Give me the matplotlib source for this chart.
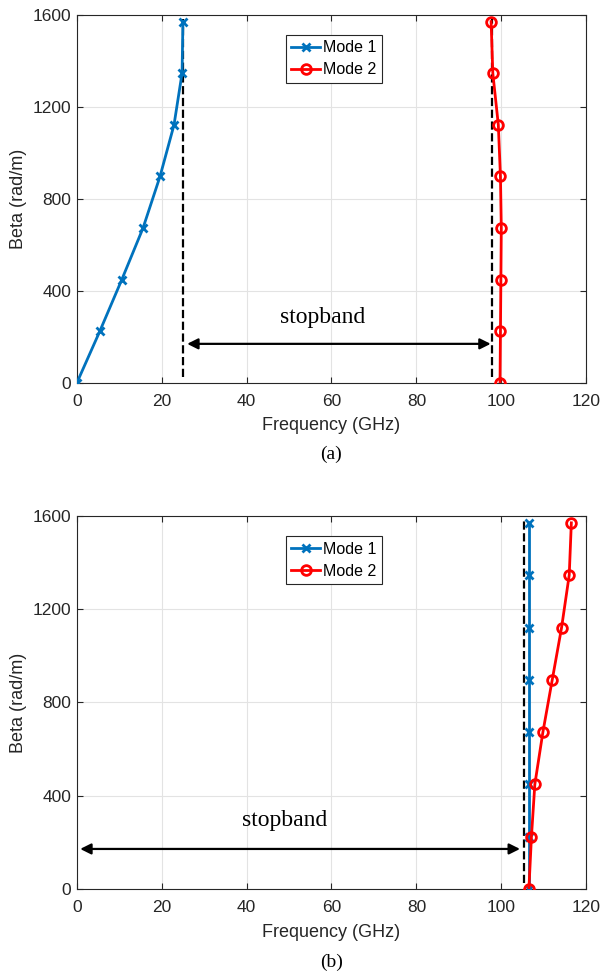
import matplotlib.pyplot as plt
import numpy as np

plt.rcParams['font.family'] = ['Liberation Sans', 'DejaVu Sans']

# Propagation constant samples (rad/m)
beta = [0, 224, 449, 673, 897, 1121, 1346, 1570]

# (a) frequencies in GHz
f1_a = [0.0, 5.4, 10.6, 15.6, 19.6, 22.9, 24.8, 25.0]
f2_a = [99.7, 99.8, 99.9, 100.0, 99.8, 99.3, 98.0, 97.6]
edges_a = [25.0, 97.9]
arrow_a = [26.0, 97.5, 170]
label_a = [58.0, 285]

# (b) frequencies in GHz
f1_b = [106.5, 106.5, 106.5, 106.5, 106.5, 106.5, 106.5, 106.5]
f2_b = [106.5, 107.1, 107.9, 109.8, 112.0, 114.2, 116.0, 116.5]
edges_b = [105.3]
arrow_b = [0.8, 104.4, 172]
label_b = [49.0, 296]

blue = '#0072BD'
red = '#FF0000'
axcol = '#262626'

fig = plt.figure(figsize=(6, 9.77), dpi=100)
ax_a = fig.add_axes([0.128, 0.608, 0.849, 0.377])
ax_b = fig.add_axes([0.128, 0.090, 0.849, 0.382])


def style(ax):
    ax.set_xlim(0, 120)
    ax.set_ylim(0, 1600)
    ax.set_xticks(np.arange(0, 121, 20))
    ax.set_yticks(np.arange(0, 1601, 400))
    ax.grid(True, color='#e3e3e3', linewidth=0.8)
    ax.set_axisbelow(True)
    ax.tick_params(direction='in', top=True, right=True, length=4,
                   labelsize=12.5, colors=axcol, width=0.8)
    ax.tick_params(axis='x', pad=8)
    ax.tick_params(axis='y', pad=4)
    for s in ax.spines.values():
        s.set_color(axcol)
        s.set_linewidth(0.8)
    ax.set_xlabel('Frequency (GHz)', fontsize=13, color=axcol, labelpad=6)
    ax.set_ylabel('Beta (rad/m)', fontsize=13, color=axcol, labelpad=4)


def draw(ax, f1, f2, edges, arrow, label, tag):
    for e in edges:
        ax.plot([e, e], [25, 1580], '--', color='black', lw=1.6, zorder=2)
    ax.plot(f1, beta, '-x', color=blue, lw=2, ms=6, mew=2, label='Mode 1', zorder=3)
    ax.plot(f2, beta, '-o', color=red, lw=2, ms=7, mew=2, mfc='none',
            label='Mode 2', zorder=3)
    ax.annotate('', xy=(arrow[0], arrow[2]), xytext=(arrow[1], arrow[2]),
                arrowprops=dict(arrowstyle='<|-|>', color='black', lw=1.6,
                                mutation_scale=16, shrinkA=0, shrinkB=0))
    ax.text(label[0], label[1], 'stopband', family='Liberation Serif',
            fontsize=17, ha='center', va='center')
    leg = ax.legend(loc='upper center', bbox_to_anchor=(0.505, 0.946),
                    fontsize=11.5, fancybox=False, framealpha=1,
                    edgecolor=axcol, handlelength=1.8, handletextpad=0.2,
                    borderpad=0.35, labelspacing=0.45, borderaxespad=0)
    leg.get_frame().set_linewidth(0.8)
    ax.text(0.5, -0.195, tag, transform=ax.transAxes, family='Liberation Serif',
            fontsize=14, ha='center', va='center')


style(ax_a)
style(ax_b)
draw(ax_a, f1_a, f2_a, edges_a, arrow_a, label_a, '(a)')
draw(ax_b, f1_b, f2_b, edges_b, arrow_b, label_b, '(b)')

fig.savefig('out.png', dpi=100)
